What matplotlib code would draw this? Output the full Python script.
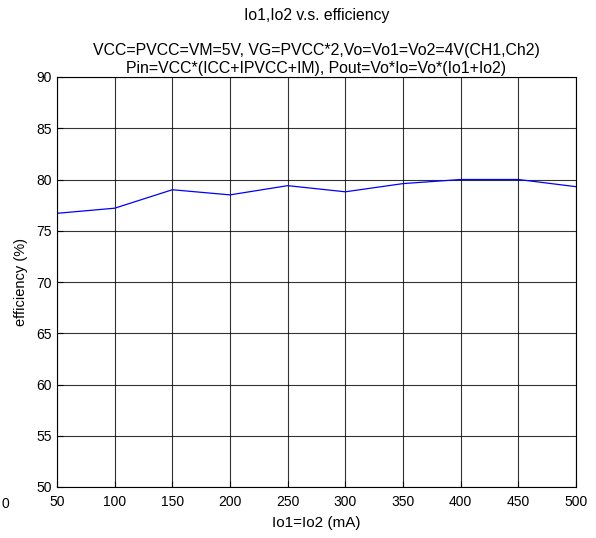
import matplotlib
matplotlib.use('Agg')
import matplotlib.pyplot as plt

plt.rcParams['font.family'] = ['Liberation Sans', 'DejaVu Sans']

# current (mA) vs efficiency (%)
io_ma = [50, 100, 150, 200, 250, 300, 350, 400, 450, 500]
efficiency = [76.7, 77.2, 79.0, 78.5, 79.4, 78.8, 79.6, 80.0, 80.0, 79.3]

fig = plt.figure(figsize=(5.96, 5.38), dpi=100)
ax = fig.add_axes([57/596, 1 - 487/538, (576 - 57)/596, (487 - 77)/538])

ax.plot(io_ma, efficiency, color='blue', linewidth=0.9)
ax.set_xlim(50, 500)
ax.set_ylim(50, 90)
ax.set_xticks(range(50, 501, 50))
ax.set_yticks(range(50, 91, 5))
ax.grid(True, color='black', linestyle='-', linewidth=0.8, alpha=0.8)
ax.tick_params(direction='in', labelsize=10, length=4)
ax.tick_params(axis='x', pad=6)
for s in ax.spines.values():
    s.set_linewidth(0.8)

ax.set_xlabel('Io1=Io2 (mA)', fontsize=11, labelpad=5)
ax.set_ylabel('efficiency (%)', fontsize=10.5, labelpad=6)

cx = 316.5 / 596
fig.text(cx, 1 - 20/538, 'Io1,Io2 v.s. efficiency', ha='center', va='baseline', fontsize=11.3)
fig.text(cx, 1 - 55/538, 'VCC=PVCC=VM=5V, VG=PVCC*2,Vo=Vo1=Vo2=4V(CH1,Ch2)',
         ha='center', va='baseline', fontsize=11.4)
fig.text(cx, 1 - 73/538, 'Pin=VCC*(ICC+IPVCC+IM), Pout=Vo*Io=Vo*(Io1+Io2)',
         ha='center', va='baseline', fontsize=11.4)
# stray label at left edge
fig.text(1/596, 1 - 504/538, '0', ha='left', va='center', fontsize=10)

fig.savefig('out.png', dpi=100)
